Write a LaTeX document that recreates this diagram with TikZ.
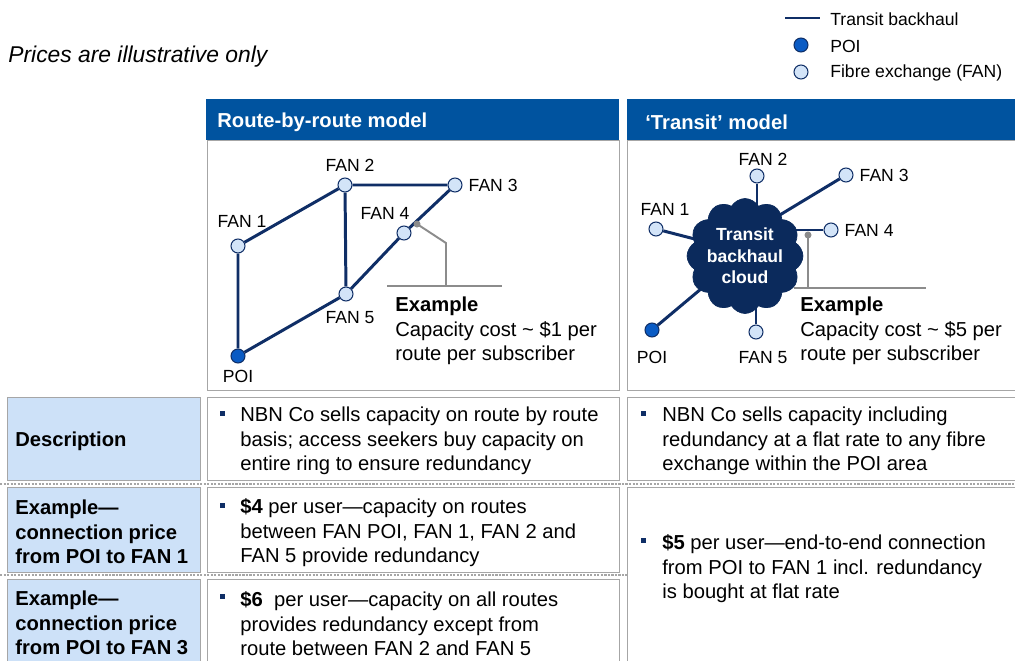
\documentclass[tikz,border=0pt]{standalone}
\usepackage{fontspec}
\setmainfont{Liberation Sans}
\usetikzlibrary{shapes.symbols,positioning}

\definecolor{hdrblue}{HTML}{00539F}
\definecolor{navy}{HTML}{0F2E66}
\definecolor{cloudnavy}{HTML}{0B2A5C}
\definecolor{poiblue}{HTML}{0A5BC4}
\definecolor{fanfill}{HTML}{D3E4F8}
\definecolor{lblfill}{HTML}{CDE1F8}
\definecolor{rulegray}{HTML}{A6A6A6}
\definecolor{pointgray}{HTML}{8C8C8C}

\tikzset{
  link/.style={navy, line width=1.7pt},
  fan/.style={circle, draw=navy, fill=fanfill, line width=0.6pt, minimum size=0.28cm, inner sep=0pt},
  poi/.style={fan, fill=poiblue},
  lbl/.style={font=\fontsize{10}{12}\selectfont},
  leader/.style={pointgray, line width=1.1pt},
  cellbox/.style={draw=rulegray, line width=0.5pt, fill=white},
  rowhead/.style={draw=rulegray, line width=0.5pt, fill=lblfill},
  body/.style={font=\fontsize{11.5}{13.9}\selectfont, align=left, anchor=west, inner sep=0pt},
  rowlbl/.style={body, font=\fontsize{11.5}{13.9}\selectfont\bfseries},
  bul/.style={fill=navy, minimum size=0.1cm, inner sep=0pt},
  rowrule/.style={rulegray, line width=1.1pt, dash pattern=on 1.2pt off 0.8pt},
}

\begin{document}
\begin{tikzpicture}[x=0.02cm, y=-0.02cm]
\useasboundingbox (0,0) rectangle (1015,660);

% note and legend
\node[anchor=west, inner sep=0pt, font=\fontsize{13}{15}\selectfont\itshape] (note) at (8,57) {Prices are illustrative only};
\coordinate (kl) at (785,18);
\coordinate (kr) at (820,18);
\draw[link] (kl) -- (kr);
\node[lbl, anchor=west, inner sep=0pt] (ktr) at (830,19) {Transit backhaul};
\node[poi] (kpoi) at (801,45) {};
\node[lbl, anchor=west, inner sep=0pt] (kpoit) at (830,46) {POI};
\node[fan] (kfan) at (801,72) {};
\node[lbl, anchor=west, inner sep=0pt] (kfant) at (830,73) {Fibre exchange (FAN)};

% row rules
\draw[rowrule] (0,484) -- (1015,484);
\draw[rowrule] (0,575) -- (1015,575);

% column headers
\fill[hdrblue] (206,99) rectangle (619,140);
\fill[hdrblue] (627,99) rectangle (1016,140);
\node[anchor=west, inner sep=0pt, text=white, font=\fontsize{11.5}{13.9}\selectfont\bfseries] (hl) at (217,122) {Route-by-route model};
\node[anchor=west, inner sep=0pt, text=white, font=\fontsize{11.5}{13.9}\selectfont\bfseries] (hr) at (645,122) {‘Transit’ model};

% cells
\draw[cellbox] (207,140) rectangle (619,390);
\draw[cellbox] (627,140) rectangle (1020,390);
\draw[rowhead] (7,397) rectangle (200,480);
\draw[cellbox] (207,397) rectangle (619,480);
\draw[cellbox] (627,397) rectangle (1020,480);
\draw[rowhead] (7,487) rectangle (200,572);
\draw[cellbox] (207,487) rectangle (619,572);
\draw[rowhead] (7,579) rectangle (200,665);
\draw[cellbox] (207,579) rectangle (619,665);
\draw[cellbox] (627,487) rectangle (1020,665);

% route-by-route network
\node[poi, label={[lbl]below:POI}] (lpoi) at (238,356) {};
\node[fan, label={[lbl, xshift=0.08cm, label distance=3pt]above:FAN 1}] (lf1) at (238,246) {};
\node[fan, label={[lbl, xshift=0.1cm]above:FAN 2}] (lf2) at (345,185) {};
\node[fan, label={[lbl]right:FAN 3}] (lf3) at (455,185) {};
\node[fan, label={[lbl, xshift=-0.38cm]above:FAN 4}] (lf4) at (404,233) {};
\node[fan, label={[lbl, xshift=0.08cm, label distance=2pt]below:FAN 5}] (lf5) at (346,294) {};
\draw[link] (lpoi) -- (lf1) -- (lf2) -- (lf3) -- (lf4) -- (lf5) -- (lpoi);
\draw[link] (lf2) -- (lf5);

\coordinate (lhit) at (417,224);
\coordinate (lbend) at (446,243);
\coordinate (lfoot) at (446,286);
\coordinate (lbarl) at (387,286);
\coordinate (lbarr) at (502,286);
\draw[leader] (lhit) -- (lbend) -- (lfoot);
\draw[leader] (lbarl) -- (lbarr);
\fill[pointgray] (lhit) circle (0.07cm);
\node[body] (lex) at (395,331) {\textbf{Example}\\Capacity cost \textasciitilde{} \$1 per\\route per subscriber};

% transit network
\coordinate (cc) at (745,252);
\coordinate (cup) at (745,236);
\node[fan, label={[lbl, xshift=0.18cm]above:FAN 1}] (rf1) at (656,229) {};
\node[fan, label={[lbl, xshift=0.12cm, label distance=-2pt]above:FAN 2}] (rf2) at (757,176) {};
\node[fan, label={[lbl]right:FAN 3}] (rf3) at (846,175) {};
\node[fan, label={[lbl]right:FAN 4}] (rf4) at (831,230) {};
\node[fan, label={[lbl, xshift=0.14cm, label distance=3pt]below:FAN 5}] (rf5) at (756,332) {};
\node[poi, label={[lbl, label distance=4pt]below:POI}] (rpoi) at (652,330) {};
\draw[link] (rf1) -- (cc);
\draw[link] (rf2) -- (rf2 |- cc);
\draw[link] (rf3) -- (cup);
\draw[link] (rf4) -- (rf4 -| cc);
\draw[link] (rf5) -- (rf5 |- cc);
\draw[link] (rpoi) -- (cc);
\node[cloud, cloud puffs=12, cloud puff arc=120, cloud ignores aspect, minimum width=2cm, minimum height=2.3cm,
      fill=cloudnavy, draw=cloudnavy, text=white, align=center, inner sep=0pt,
      font=\fontsize{10}{12.3}\selectfont\bfseries] (cloud) at (745,256) {Transit\\backhaul\\cloud};

\coordinate (rhit) at (808,235);
\coordinate (rfoot) at (808,288);
\coordinate (rbarl) at (794,288);
\coordinate (rbarr) at (926,288);
\draw[leader] (rhit) -- (rfoot);
\draw[leader] (rbarl) -- (rbarr);
\fill[pointgray] (rhit) circle (0.07cm);
\node[body] (rex) at (800,331) {\textbf{Example}\\Capacity cost \textasciitilde{} \$5 per\\route per subscriber};

% row labels
\node[rowlbl] (d1) at (15,441) {Description};
\node[rowlbl] (d2) at (15,532) {Example---\\connection price\\from POI to FAN 1};
\node[rowlbl] (d3) at (15,623) {Example---\\connection price\\from POI to FAN 3};

% row texts
\node[bul] (b1l) at (222,413) {};
\node[body] (t1l) at (240,441) {NBN Co sells capacity on route by route\\basis; access seekers buy capacity on\\entire ring to ensure redundancy};
\node[bul] (b1r) at (643,413) {};
\node[body] (t1r) at (662,441) {NBN Co sells capacity including\\redundancy at a flat rate to any fibre\\exchange within the POI area};
\node[bul] (b2l) at (222,505) {};
\node[body] (t2l) at (240,533) {\textbf{\$4} per user---capacity on routes\\between FAN POI, FAN 1, FAN 2 and\\FAN 5 provide redundancy};
\node[bul] (b3l) at (222,596) {};
\node[body] (t3l) at (240,624) {\textbf{\$6} \ per user---capacity on all routes\\provides redundancy except from\\route between FAN 2 and FAN 5};
\node[bul] (b2r) at (643,540) {};
\node[body] (t2r) at (662,569) {\textbf{\$5} per user---end-to-end connection\\from POI to FAN 1 incl. redundancy\\is bought at flat rate};
\end{tikzpicture}
\end{document}
